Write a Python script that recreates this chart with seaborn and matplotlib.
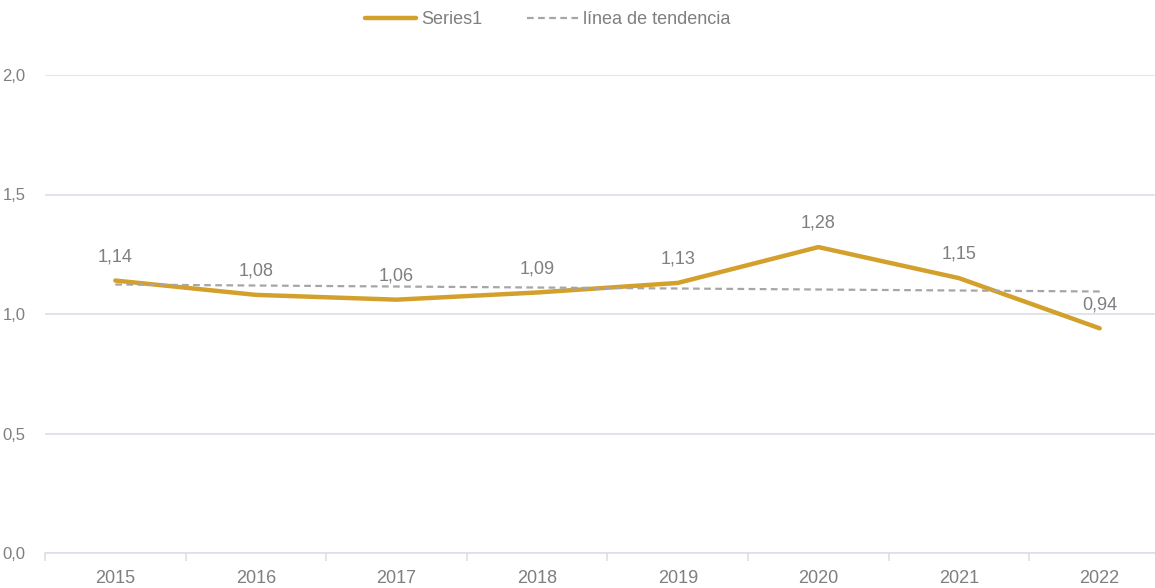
import numpy as np
import pandas as pd
import matplotlib
matplotlib.use("Agg")
import matplotlib.pyplot as plt
import seaborn as sns
from matplotlib.ticker import FixedLocator, FuncFormatter

years = ["2015", "2016", "2017", "2018", "2019", "2020", "2021", "2022"]
values = [1.14, 1.08, 1.06, 1.09, 1.13, 1.28, 1.15, 0.94]
yticks = [0.0, 0.5, 1.0, 1.5, 2.0]

sns.set_theme(style="white")
plt.rcParams["font.family"] = ["Liberation Sans Narrow", "Liberation Sans", "DejaVu Sans"]

gold = "#D4A02C"
text_grey = "#7F7F7F"
grid_col = "#DCDFE8"

df = pd.DataFrame({"year": years, "value": values, "x": np.arange(len(years))})
# linear trend line, as the spreadsheet computes it
coef = np.polyfit(df["x"], df["value"], 1)
df["trend"] = np.polyval(coef, df["x"])

fig = plt.figure(figsize=(11.55, 5.88), dpi=100)
ax = fig.add_axes([45 / 1155, 35 / 588, 1125 / 1155, 478 / 588])

sns.lineplot(data=df, x="x", y="value", ax=ax, color=gold, linewidth=3.2,
             label="Series1", solid_capstyle="round")
sns.lineplot(data=df, x="x", y="trend", ax=ax, color="#A6A6A6", linewidth=1.6,
             linestyle=(0, (3, 2)), label="línea de tendencia")

for xi, v in zip(df["x"], df["value"]):
    ax.annotate(f"{v:.2f}".replace(".", ","), (xi, v), xytext=(0, 11),
                textcoords="offset points", ha="center", va="bottom",
                fontsize=13, color=text_grey)

ax.set_xlim(-0.5, len(years) - 0.5)
ax.set_ylim(0, 2.0)
ax.yaxis.set_major_locator(FixedLocator(yticks))
ax.yaxis.set_major_formatter(FuncFormatter(lambda v, p: f"{v:.1f}".replace(".", ",")))
ax.grid(axis="y", color=grid_col, linewidth=1.2)
ax.set_axisbelow(True)

ax.set_xticks(np.arange(len(years)))
ax.set_xticklabels(years)
ax.set_xticks(np.arange(len(years) + 1) - 0.5, minor=True)
ax.tick_params(axis="x", which="major", length=0, pad=12, labelsize=13, labelcolor=text_grey)
ax.tick_params(axis="x", which="minor", length=6, width=1.2, color=grid_col, direction="out")
ax.tick_params(axis="y", length=0, pad=14, labelsize=12, labelcolor=text_grey)
ax.xaxis.set_ticks_position("bottom")

for side in ["top", "right", "left"]:
    ax.spines[side].set_visible(False)
ax.spines["bottom"].set_color(grid_col)
ax.spines["bottom"].set_linewidth(1.2)
ax.set_xlabel("")
ax.set_ylabel("")

ax.legend(loc="upper center", bbox_to_anchor=(548 / 1155, 1.0), bbox_transform=fig.transFigure,
          ncol=2, frameon=False, fontsize=13, labelcolor=text_grey, handlelength=2.8,
          columnspacing=2.5, handletextpad=0.3, borderaxespad=0.2)

fig.savefig("out.png", dpi=100)
